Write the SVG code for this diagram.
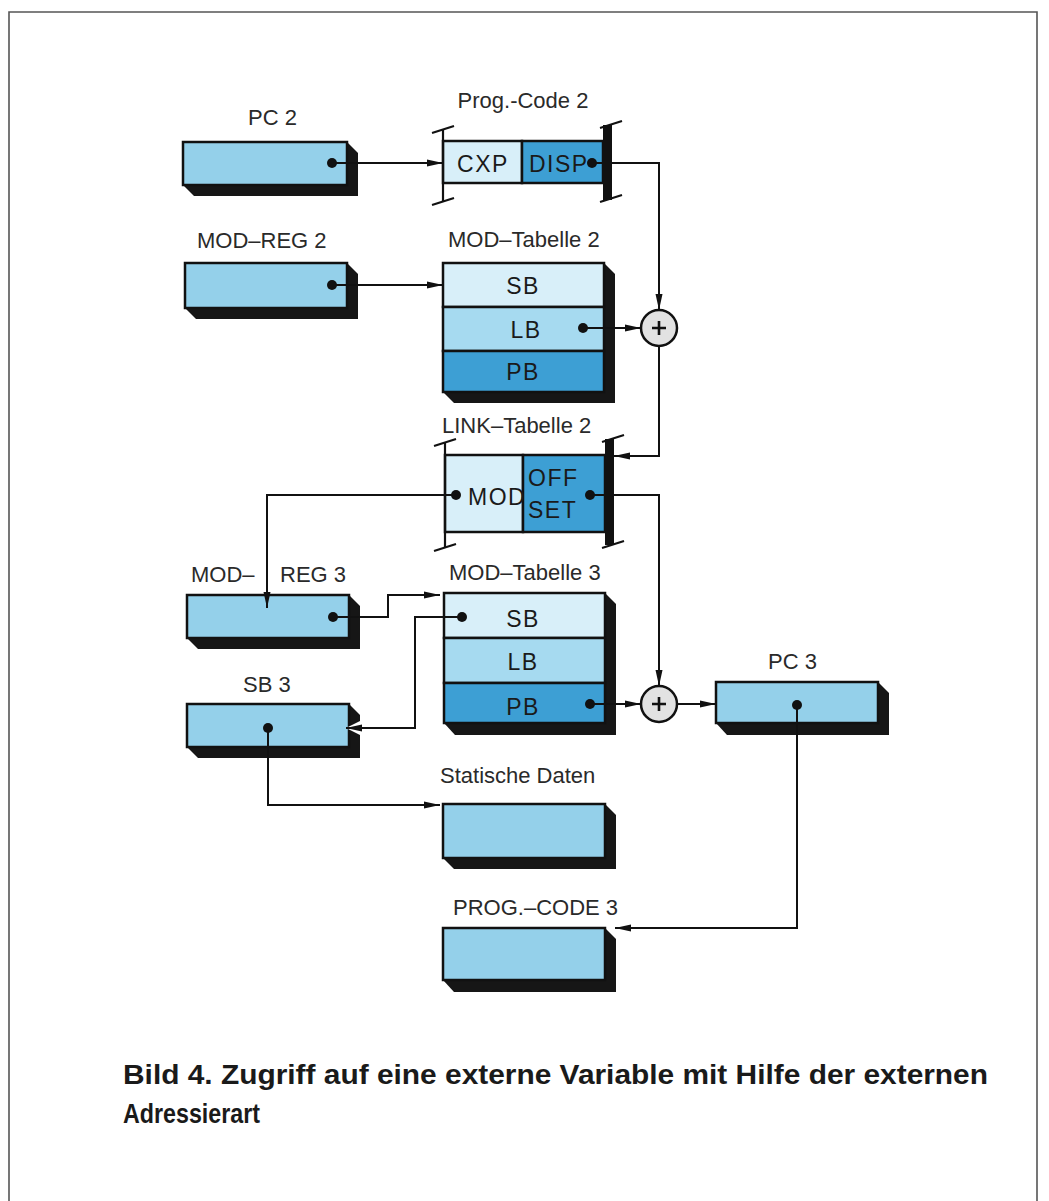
<svg xmlns="http://www.w3.org/2000/svg" width="1049" height="1201" viewBox="0 0 1049 1201">
<defs>
<style>
.lbl{font-family:"Liberation Sans",Arial,sans-serif;font-size:22px;fill:#2a2a2a}
.in{font-family:"Liberation Sans",Arial,sans-serif;font-size:23px;fill:#1a1a1a;letter-spacing:1.5px}
.cap{font-family:"Liberation Sans",Arial,sans-serif;font-size:28px;font-weight:bold;fill:#1a1a1a}
.sh{fill:#161616}
.box{fill:#94d0ea;stroke:#111;stroke-width:2.5}
.lt{fill:#d8eff9;stroke:#111;stroke-width:2.5}
.md{fill:#a6daf0;stroke:#111;stroke-width:2.5}
.dk{fill:#3d9fd4;stroke:#111;stroke-width:2.5}
.ln{fill:none;stroke:#111;stroke-width:2}
.tk{fill:none;stroke:#111;stroke-width:2.2}
.dot{fill:#111}
.sum{fill:#e2e2e2;stroke:#111;stroke-width:2.5}
</style>
<marker id="ah" markerUnits="userSpaceOnUse" markerWidth="18" markerHeight="10" refX="16" refY="5" orient="auto">
<path d="M0,1.5 L16,5 L0,8.5 z" fill="#111"/>
</marker>
</defs>
<rect x="0" y="0" width="1049" height="1201" fill="#ffffff"/>
<path d="M9,1201 V12 H1037 V1201" fill="none" stroke="#555" stroke-width="1.6"/>

<g id="pc2">
<text class="lbl" x="248" y="125">PC 2</text>
<polygon class="sh" points="183,185 194,196 358,196 358,153 347,142"/>
<rect class="box" x="183" y="142" width="164" height="43"/>
<circle class="dot" cx="332" cy="163" r="5"/>
</g>

<g id="progcode2">
<text class="lbl" x="523" y="108" text-anchor="middle">Prog.-Code 2</text>
<rect class="lt" x="443" y="141" width="79" height="42"/>
<rect class="dk" x="522" y="141" width="81" height="42"/>
<line class="tk" x1="443" y1="129" x2="443" y2="202"/>
<line class="tk" x1="432" y1="133" x2="454" y2="126"/>
<line class="tk" x1="432" y1="205" x2="454" y2="198"/>
<rect x="603" y="125" width="9" height="75" fill="#111"/>
<line class="tk" x1="600" y1="128" x2="622" y2="121"/>
<line class="tk" x1="600" y1="202" x2="622" y2="195"/>
<text class="in" x="483" y="172" text-anchor="middle">CXP</text>
<text class="in" x="529" y="172" letter-spacing="0">DISP</text>
<circle class="dot" cx="592" cy="163" r="5"/>
</g>

<g id="modreg2">
<text class="lbl" x="197" y="248">MOD–REG  2</text>
<polygon class="sh" points="185,308 196,319 358,319 358,274 347,263"/>
<rect class="box" x="185" y="263" width="162" height="45"/>
<circle class="dot" cx="332" cy="285" r="5"/>
</g>

<g id="modtab2">
<text class="lbl" x="448" y="247">MOD–Tabelle 2</text>
<polygon class="sh" points="443,392 454,403 615,403 615,274 604,263"/>
<rect class="lt" x="443" y="263" width="161" height="44"/>
<rect class="md" x="443" y="307" width="161" height="44"/>
<rect class="dk" x="443" y="351" width="161" height="41"/>
<text class="in" x="523" y="294" text-anchor="middle">SB</text>
<text class="in" x="526" y="338" text-anchor="middle">LB</text>
<text class="in" x="523" y="380" text-anchor="middle">PB</text>
<circle class="dot" cx="583" cy="328" r="5"/>
</g>

<g id="sum1">
<circle class="sum" cx="659" cy="328" r="18"/>
<path d="M652,328 H666 M659,321 V335" stroke="#111" stroke-width="2.6"/>
</g>

<g id="linktab2">
<text class="lbl" x="442" y="433">LINK–Tabelle 2</text>
<rect class="lt" x="445" y="455" width="78" height="77"/>
<rect class="dk" x="523" y="455" width="82" height="77"/>
<line class="tk" x1="445" y1="442" x2="445" y2="548"/>
<line class="tk" x1="434" y1="446" x2="456" y2="439"/>
<line class="tk" x1="434" y1="551" x2="456" y2="544"/>
<rect x="605" y="439" width="9" height="106" fill="#111"/>
<line class="tk" x1="602" y1="442" x2="624" y2="435"/>
<line class="tk" x1="602" y1="548" x2="624" y2="541"/>
<text class="in" x="468" y="505" letter-spacing="0.5">MOD</text>
<text class="in" x="528" y="486" letter-spacing="0.5">OFF</text>
<text class="in" x="528" y="518" letter-spacing="0.5">SET</text>
<circle class="dot" cx="456" cy="495" r="5"/>
<circle class="dot" cx="590" cy="495" r="5"/>
</g>

<g id="modreg3">
<text class="lbl" x="191" y="582">MOD–<tspan x="280">REG 3</tspan></text>
<polygon class="sh" points="187,638 198,649 360,649 360,606 349,595"/>
<rect class="box" x="187" y="595" width="162" height="43"/>
<circle class="dot" cx="333" cy="617" r="5"/>
</g>

<g id="modtab3">
<text class="lbl" x="449" y="580">MOD–Tabelle 3</text>
<polygon class="sh" points="444,723 455,735 616,735 616,604 605,593"/>
<rect class="lt" x="444" y="593" width="161" height="45"/>
<rect class="md" x="444" y="638" width="161" height="45"/>
<rect class="dk" x="444" y="683" width="161" height="40"/>
<text class="in" x="523" y="627" text-anchor="middle">SB</text>
<text class="in" x="523" y="670" text-anchor="middle">LB</text>
<text class="in" x="523" y="715" text-anchor="middle">PB</text>
<circle class="dot" cx="462" cy="617" r="5"/>
<circle class="dot" cx="590" cy="704" r="5"/>
</g>

<g id="sb3">
<text class="lbl" x="243" y="692">SB 3</text>
<polygon class="sh" points="187,747 198,758 360,758 360,715 349,704"/>
<rect class="box" x="187" y="704" width="162" height="43"/>
<polygon points="346,728 362,720 362,736" fill="#ffffff"/>
<circle class="dot" cx="268" cy="728" r="5"/>
</g>

<g id="sum2">
<circle class="sum" cx="659" cy="704" r="18"/>
<path d="M652,704 H666 M659,697 V711" stroke="#111" stroke-width="2.6"/>
</g>

<g id="pc3">
<text class="lbl" x="768" y="669">PC 3</text>
<polygon class="sh" points="716,723 727,735 889,735 889,693 878,682"/>
<rect class="box" x="716" y="682" width="162" height="41"/>
<circle class="dot" cx="797" cy="705" r="5"/>
</g>

<g id="statdaten">
<text class="lbl" x="440" y="783">Statische Daten</text>
<polygon class="sh" points="443,858 454,869 616,869 616,815 605,804"/>
<rect class="box" x="443" y="804" width="162" height="54"/>
</g>

<g id="progcode3">
<text class="lbl" x="453" y="915">PROG.–CODE 3</text>
<polygon class="sh" points="443,980 454,992 616,992 616,939 605,928"/>
<rect class="box" x="443" y="928" width="162" height="52"/>
</g>

<g id="connectors">
<path class="ln" d="M332,163 H443" marker-end="url(#ah)"/>
<path class="ln" d="M592,163 H659 V310" marker-end="url(#ah)"/>
<path class="ln" d="M332,285 H443" marker-end="url(#ah)"/>
<path class="ln" d="M583,328 H641" marker-end="url(#ah)"/>
<path class="ln" d="M659,346 V456 H614" marker-end="url(#ah)"/>
<path class="ln" d="M456,495 H267 V608" marker-end="url(#ah)"/>
<path class="ln" d="M590,495 H659 V686" marker-end="url(#ah)"/>
<path class="ln" d="M333,617 H388 V595 H440" marker-end="url(#ah)"/>
<path class="ln" d="M462,617 H415 V728 H346" marker-end="url(#ah)"/>
<path class="ln" d="M268,728 V805 H440" marker-end="url(#ah)"/>
<path class="ln" d="M590,704 H641" marker-end="url(#ah)"/>
<path class="ln" d="M677,704 H716" marker-end="url(#ah)"/>
<path class="ln" d="M797,705 V928 H615" marker-end="url(#ah)"/>
</g>

<g id="caption">
<text class="cap" x="123" y="1084" textLength="865" lengthAdjust="spacingAndGlyphs">Bild 4. Zugriff auf eine externe Variable mit Hilfe der externen</text>
<text class="cap" x="123" y="1123" textLength="137" lengthAdjust="spacingAndGlyphs">Adressierart</text>
</g>
</svg>
